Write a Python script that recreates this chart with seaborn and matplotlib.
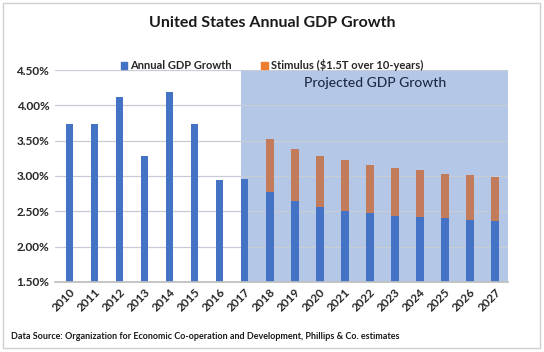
import matplotlib
matplotlib.use("Agg")
import matplotlib.pyplot as plt
import matplotlib.patches as mpatches
import numpy as np
import pandas as pd
import seaborn as sns

years = [str(y) for y in range(2010, 2028)]
annual_gdp = [3.74, 3.74, 4.12, 3.28, 4.19, 3.74, 2.94, 2.96,
              2.77, 2.64, 2.56, 2.51, 2.48, 2.44, 2.42, 2.40, 2.38, 2.36]
stimulus = [0, 0, 0, 0, 0, 0, 0, 0,
            0.75, 0.74, 0.73, 0.71, 0.68, 0.67, 0.66, 0.63, 0.63, 0.62]
yticks = [1.5, 2.0, 2.5, 3.0, 3.5, 4.0, 4.5]

title = "United States Annual GDP Growth"
legend_labels = ["Annual GDP Growth", "Stimulus ($1.5T over 10-years)"]
shade_label = "Projected GDP Growth"
source = "Data Source: Organization for Economic Co-operation and Development, Phillips & Co. estimates"

df = pd.DataFrame({"year": years, "gdp": annual_gdp, "stim": stimulus})
df["total"] = df["gdp"] + df["stim"]

sns.set_theme(style="white")
plt.rcParams["font.family"] = ["Lato", "DejaVu Sans"]

blue = "#4472C4"
stim_bar = "#C27B5B"
stim_leg = "#ED7D31"
shade = "#B4C7E7"

fig = plt.figure(figsize=(5.44, 3.52), dpi=100)
ax = fig.add_axes([0.101, 0.199, 0.833, 0.602])

bw = 0.31
sns.barplot(data=df, x="year", y="total", color=stim_bar, width=bw,
            saturation=1, ax=ax, zorder=3, linewidth=0, edgecolor="none")
sns.barplot(data=df, x="year", y="gdp", color=blue, width=bw,
            saturation=1, ax=ax, zorder=4, linewidth=0, edgecolor="none")

ax.set_xlim(-0.58, 17.53)
ax.set_ylim(1.5, 4.5)
ax.axvspan(7 - bw / 2, 17.53, color=shade, zorder=0, lw=0)
ax.set_yticks(yticks)
ax.set_yticklabels([f"{v:.2f}%" for v in yticks], fontsize=8.5, fontweight="bold")
ax.set_xticks(range(len(years)))
ax.set_xticklabels(years, rotation=45, fontsize=8.5, fontweight="bold",
                   ha="right", rotation_mode="anchor")
ax.tick_params(axis="x", pad=3, length=0)
ax.tick_params(axis="y", pad=4, length=0)
ax.set_xlabel("")
ax.set_ylabel("")
ax.grid(axis="y", color="#C8CCD6", lw=0.9, zorder=1)
ax.set_axisbelow(False)
for line in ax.get_ygridlines():
    line.set_zorder(1)
for s in ["left", "right", "top"]:
    ax.spines[s].set_visible(False)
ax.spines["bottom"].set_color("#BFBFBF")
ax.spines["bottom"].set_zorder(5)
ax.patch.set_alpha(0)

ax.text(12.2, 4.31, shade_label, ha="center", va="center", fontsize=10,
        fontweight="medium", color="#1F2A44", zorder=6)

fig.text(0.5, 0.934, title, ha="center", va="center", fontsize=11.5,
         fontweight="bold", color="#1a1a1a")

handles = [mpatches.Patch(color=blue, label=legend_labels[0]),
           mpatches.Patch(color=stim_leg, label=legend_labels[1])]
leg = fig.legend(handles=handles, loc="center", bbox_to_anchor=(0.5, 0.815),
                 ncol=2, frameon=False, fontsize=8, handlelength=0.6,
                 handleheight=0.6, handletextpad=0.3, columnspacing=2.6,
                 borderpad=0)
for t in leg.get_texts():
    t.set_fontweight("bold")

fig.text(0.02, 0.043, source, ha="left", va="center", fontsize=6.5,
         fontweight="bold", color="#1a1a1a")

fig.patches.append(mpatches.Rectangle((0.005, 0.01), 0.988, 0.982,
                                      transform=fig.transFigure, fill=False,
                                      edgecolor="#D0D0D0", lw=1))

fig.savefig("out.png", dpi=100)
